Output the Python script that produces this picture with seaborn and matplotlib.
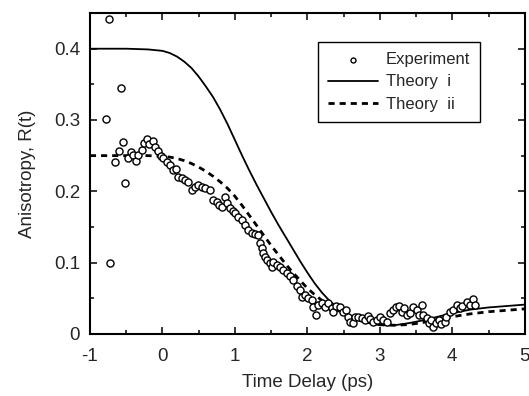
import numpy as np
import pandas as pd
import matplotlib
matplotlib.use("Agg")
import matplotlib.pyplot as plt
import seaborn as sns
from matplotlib.ticker import MultipleLocator

# Experiment data
exp_t = [-0.78, -0.74, -0.72, -0.66, -0.60, -0.57, -0.54, -0.52, -0.48, -0.43, -0.40, -0.37,
         -0.33, -0.28, -0.25, -0.21, -0.19, -0.13, -0.10, -0.06, -0.02, 0.01, 0.06, 0.10,
         0.14, 0.19, 0.21, 0.27, 0.31, 0.35, 0.41, 0.45, 0.49, 0.54, 0.59, 0.66, 0.70,
         0.75, 0.78, 0.82, 0.86, 0.89, 0.93, 0.97, 1.00, 1.04, 1.10, 1.14, 1.18, 1.23,
         1.28, 1.32, 1.34, 1.37, 1.39, 1.41, 1.44, 1.48, 1.51, 1.52, 1.58, 1.62, 1.66,
         1.72, 1.76, 1.80, 1.86, 1.90, 1.92, 1.97, 2.01, 2.06, 2.08, 2.12, 2.15, 2.20,
         2.24, 2.28, 2.34, 2.35, 2.39, 2.45, 2.49, 2.53, 2.56, 2.59, 2.63, 2.66, 2.70,
         2.75, 2.79, 2.84, 2.87, 2.90, 2.96, 3.00, 3.04, 3.10, 3.14, 3.18, 3.23, 3.26,
         3.30, 3.33, 3.37, 3.41, 3.46, 3.51, 3.54, 3.58, 3.59, 3.65, 3.68, 3.71, 3.74,
         3.78, 3.81, 3.85, 3.90, 3.92, 3.97, 4.01, 4.06, 4.10, 4.14, 4.20, 4.24, 4.28,
         4.32]
exp_r = [0.302, 0.441, 0.100, 0.241, 0.257, 0.345, 0.269, 0.212, 0.247, 0.255, 0.251, 0.243,
         0.251, 0.258, 0.268, 0.274, 0.267, 0.270, 0.262, 0.257, 0.249, 0.247, 0.241, 0.237,
         0.230, 0.231, 0.220, 0.219, 0.216, 0.213, 0.202, 0.206, 0.209, 0.206, 0.205, 0.202, 0.188,
         0.185, 0.181, 0.178, 0.192, 0.184, 0.177, 0.172, 0.170, 0.164, 0.160, 0.153, 0.146, 0.142,
         0.140, 0.138, 0.128, 0.121, 0.114, 0.108, 0.104, 0.100, 0.094, 0.101, 0.097, 0.094, 0.090,
         0.085, 0.081, 0.076, 0.067, 0.062, 0.052, 0.055, 0.050, 0.048, 0.038, 0.027, 0.041, 0.043,
         0.038, 0.043, 0.036, 0.031, 0.039, 0.038, 0.031, 0.034, 0.024, 0.017, 0.015, 0.024, 0.024,
         0.022, 0.020, 0.025, 0.021, 0.017, 0.020, 0.024, 0.020, 0.017, 0.029, 0.034, 0.038, 0.039,
         0.031, 0.036, 0.027, 0.029, 0.038, 0.034, 0.027, 0.041, 0.027, 0.022, 0.015, 0.020, 0.010,
         0.015, 0.020, 0.014, 0.017, 0.024, 0.031, 0.034, 0.041, 0.036, 0.039, 0.045, 0.041, 0.049,
         0.041]

# Theory curves
th_t = [-1.0, -0.5, -0.2, 0.0, 0.1, 0.2, 0.3, 0.4, 0.5, 0.6, 0.7, 0.8, 0.9, 1.0, 1.1, 1.2,
        1.3, 1.4, 1.5, 1.6, 1.7, 1.8, 1.9, 2.0, 2.1, 2.2, 2.3, 2.4, 2.5, 2.6, 2.7, 2.8,
        2.9, 3.0, 3.2, 3.4, 3.6, 3.8, 4.0, 4.25, 4.5, 4.75, 5.0]
th1_r = [0.400, 0.400, 0.399, 0.397, 0.394, 0.389, 0.382, 0.373, 0.361, 0.347, 0.332, 0.314,
         0.294, 0.272, 0.250, 0.229, 0.209, 0.190, 0.171, 0.153, 0.136, 0.119, 0.102, 0.086,
         0.071, 0.058, 0.047, 0.038, 0.031, 0.025, 0.020, 0.016, 0.014, 0.012, 0.012, 0.015,
         0.019, 0.024, 0.029, 0.034, 0.037, 0.039, 0.041]
th2_r = [0.250, 0.250, 0.250, 0.249, 0.248, 0.246, 0.243, 0.239, 0.234, 0.228, 0.221, 0.213,
         0.204, 0.193, 0.180, 0.166, 0.152, 0.138, 0.124, 0.111, 0.098, 0.086, 0.075, 0.064,
         0.055, 0.047, 0.040, 0.034, 0.029, 0.024, 0.020, 0.017, 0.015, 0.013, 0.012, 0.013,
         0.016, 0.020, 0.024, 0.028, 0.031, 0.033, 0.035]

exp_df = pd.DataFrame({"t": exp_t, "r": exp_r})
th_df = pd.DataFrame({"t": th_t, "i": th1_r, "ii": th2_r})

sns.set_style("ticks")
plt.rcParams["font.family"] = ["Liberation Sans", "DejaVu Sans"]

fig = plt.figure(figsize=(5.29, 3.96), dpi=100)
ax = fig.add_axes([0.170, 0.157, 0.822, 0.810])

sns.scatterplot(data=exp_df, x="t", y="r", ax=ax, marker="o", s=26, facecolor="white",
                edgecolor="black", linewidth=1.0, label="Experiment", zorder=3)
sns.lineplot(data=th_df, x="t", y="i", ax=ax, color="black", linewidth=1.3,
             label="Theory  i", zorder=2)
sns.lineplot(data=th_df, x="t", y="ii", ax=ax, color="black", linewidth=2.0,
             linestyle=(0, (2.2, 1.8)), label="Theory  ii", zorder=2)

ax.set_xlim(-1, 5)
ax.set_ylim(0, 0.45)
ax.set_xticks([-1, 0, 1, 2, 3, 4, 5])
ax.set_xticklabels(["-1", "0", "1", "2", "3", "4", "5"])
ax.set_yticks([0, 0.1, 0.2, 0.3, 0.4])
ax.set_yticklabels(["0", "0.1", "0.2", "0.3", "0.4"])
ax.xaxis.set_minor_locator(MultipleLocator(0.5))
ax.yaxis.set_minor_locator(MultipleLocator(0.05))
ax.tick_params(which="both", direction="in", top=True, right=True, color="black",
               labelsize=13.5, width=1.1)
ax.tick_params(which="major", length=5)
ax.tick_params(which="minor", length=3)
ax.tick_params(axis="x", which="major", pad=10)
ax.tick_params(axis="y", which="major", pad=7)
for sp in ax.spines.values():
    sp.set_visible(True)
    sp.set_linewidth(1.5)
    sp.set_color("black")

ax.set_xlabel("Time Delay (ps)", fontsize=13.5, labelpad=7)
ax.set_ylabel("Anisotropy, R(t)", fontsize=13.5, labelpad=13)

leg = ax.legend(loc="upper left", bbox_to_anchor=(0.524, 0.91), fontsize=12,
                frameon=True, fancybox=False, edgecolor="black", framealpha=1,
                handlelength=3.0, handletextpad=0.5, borderpad=0.6, labelspacing=0.45,
                borderaxespad=0, markerscale=0.7)
leg.get_frame().set_linewidth(1.0)

fig.savefig("out.png", dpi=100)
